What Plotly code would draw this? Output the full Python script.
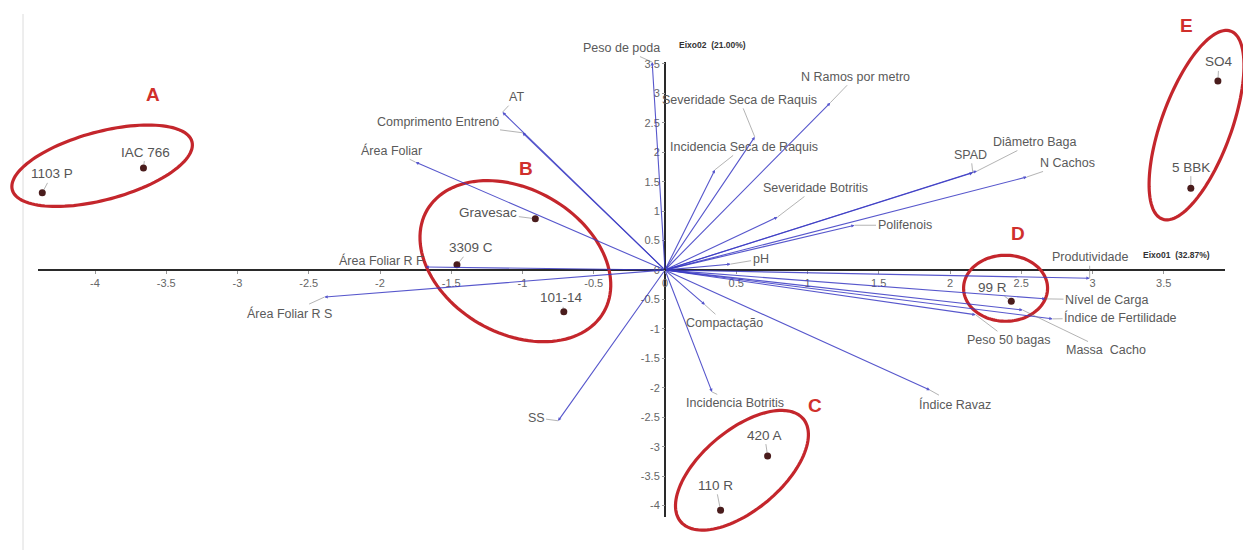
import numpy as np
import plotly.graph_objects as go

# ---- Observations (rootstocks): scores on Eixo01 / Eixo02 ----
obs_names = ["1103 P", "IAC 766", "Gravesac", "3309 C", "101-14",
             "420 A", "110 R", "99 R", "SO4", "5 BBK"]
obs_x = [-4.37, -3.66, -0.91, -1.46, -0.71, 0.72, 0.39, 2.43, 3.88, 3.69]
obs_y = [1.31, 1.73, 0.87, 0.09, -0.71, -3.16, -4.08, -0.53, 3.21, 1.39]

# ---- Variables: loadings drawn as vectors from the origin ----
var_names = ["Peso de poda", "AT", "Comprimento Entrenó", "Área Foliar",
             "Área Foliar R F", "Área Foliar R S", "SS", "Compactação",
             "Incidencia Botritis", "Índice Ravaz", "Peso 50 bagas",
             "Massa  Cacho", "Índice de Fertilidade", "Nível de Carga",
             "Produtividade", "pH", "Polifenois", "Severidade Botritis",
             "Incidencia Seca de Raquis", "Severidade Seca de Raquis",
             "N Ramos por metro", "SPAD", "Diâmetro Baga", "N Cachos"]
var_x = [-0.09, -1.14, -1.00, -1.75, -1.68, -2.39, -0.75, 0.28, 0.33, 1.86,
         2.18, 2.51, 2.72, 2.67, 2.98, 0.46, 1.33, 0.79, 0.35, 0.63,
         1.16, 2.16, 2.19, 2.54]
var_y = [3.53, 2.68, 2.33, 1.83, 0.05, -0.46, -2.56, -0.59, -2.07, -2.04,
         -0.76, -0.68, -0.83, -0.49, -0.14, 0.10, 0.76, 0.90, 1.70, 2.26,
         2.84, 1.65, 1.68, 1.58]

# ---- Axis ticks ----
x_ticks = [-4, -3.5, -3, -2.5, -2, -1.5, -1, -0.5, 0, 0.5, 1, 1.5, 2, 2.5, 3, 3.5]
x_tick_text = ["-4", "-3.5", "-3", "-2.5", "-2", "-1.5", "-1", "-0.5", "0",
               "0.5", "1", "1.5", "2", "2.5", "3", "3.5"]
y_ticks = [-4, -3.5, -3, -2.5, -2, -1.5, -1, -0.5, 0, 0.5, 1, 1.5, 2, 2.5, 3, 3.5]
y_tick_text = ["-4", "-3.5", "-3", "-2.5", "-2", "-1.5", "-1", "-0.5", "0",
               "0.5", "1", "1.5", "2", "2.5", "3", "3.5"]
x_axis_title = "Eixo01  (32.87%)"
y_axis_title = "Eixo02  (21.00%)"

# ---- Groups highlighted with ellipses ----
group_names = ["A", "B", "C", "D", "E"]
group_cx = [-3.95, -1.05, 0.54, 2.39, 3.73]
group_cy = [1.77, 0.15, -3.40, -0.31, 2.46]

# ---------------- layout geometry ----------------
W, H = 1243, 550
X0_PX, Y0_PX = 665, 270          # origin position in the page
SX, SY = 142.5, 58.9             # pixels per unit
x_range = [(0 - X0_PX) / SX, (W - X0_PX) / SX]
y_range = [(Y0_PX - H) / SY, Y0_PX / SY]

FAMILY = "Liberation Sans, Arial, sans-serif"
LABEL_FONT = dict(family=FAMILY, size=12.5, color="#5a5a5a")
VEC_COLOR = "rgba(58,58,196,0.85)"
LEADER = "rgba(110,110,110,0.65)"
RED = "#c4262c"

fig = go.Figure()

# observation points
fig.add_trace(go.Scatter(
    x=obs_x, y=obs_y, mode="markers",
    marker=dict(size=7, color="#4a1c1c"),
    hoverinfo="text", text=obs_names, showlegend=False))

annotations = []

# variable vectors
for vx, vy in zip(var_x, var_y):
    annotations.append(dict(
        x=vx, y=vy, ax=0, ay=0, xref="x", yref="y", axref="x", ayref="y",
        text="", showarrow=True, arrowhead=2, arrowsize=0.6, arrowwidth=1.1,
        arrowcolor=VEC_COLOR, standoff=0))

# variable labels with leader lines (pixel offsets of the text)
var_label_offsets = [(-31, -14), (14, -15), (-85, -11), (-24, -12), (-44, -7),
                     (-35, 16), (-22, -3), (20, 18), (23, 11), (25, 14),
                     (33, 25), (83, 40), (68, -1), (61, 1), (0, -21),
                     (30, -5), (50, 0), (38, -29), (29, -23), (-15, -37),
                     (25, -26), (-2, -18), (57, -29), (41, -14)]
for name, vx, vy, (ox, oy) in zip(var_names, var_x, var_y, var_label_offsets):
    annotations.append(dict(
        x=vx, y=vy, xref="x", yref="y", ax=ox, ay=oy,
        text=name, font=LABEL_FONT, showarrow=True, arrowhead=0,
        arrowwidth=0.8, arrowcolor=LEADER, standoff=0))

# observation labels
obs_label_offsets = [(10, -19), (2, -16), (-47, -6), (14, -17), (-2, -14),
                     (-3, -21), (-5, -25), (-19, -14), (1, -19), (0, -21)]
for name, ox_, oy_, (ox, oy) in zip(obs_names, obs_x, obs_y, obs_label_offsets):
    annotations.append(dict(
        x=ox_, y=oy_, xref="x", yref="y", ax=ox, ay=oy,
        text=name, font=dict(family=FAMILY, size=13.5, color="#555555"),
        showarrow=True, arrowhead=0, arrowwidth=0.8, arrowcolor=LEADER, standoff=3))

# axis titles
annotations.append(dict(x=(712 - X0_PX) / SX, y=(Y0_PX - 45) / SY, xref="x", yref="y",
                        text="<b>" + y_axis_title + "</b>", showarrow=False,
                        font=dict(family=FAMILY, size=8.5, color="#333333")))
annotations.append(dict(x=(1176 - X0_PX) / SX, y=(Y0_PX - 255) / SY, xref="x", yref="y",
                        text="<b>" + x_axis_title + "</b>", showarrow=False,
                        font=dict(family=FAMILY, size=8.5, color="#333333")))

# group ellipses (semi-axes in pixels, tilt in screen degrees) and letters
ell_style = [(93, 34, -15), (102, 72, 30), (80, 40, -40), (42, 33, 0), (100, 35, -70)]
letter_offsets = [(51, -71), (11, -93), (73, -65), (12, -55), (-10, -100)]
shapes = []
t = np.linspace(0, 2 * np.pi, 121)
for g, cx, cy, (a, b, ang), (lx, ly) in zip(group_names, group_cx, group_cy,
                                              ell_style, letter_offsets):
    th = np.deg2rad(ang)
    dx = a * np.cos(t) * np.cos(th) - b * np.sin(t) * np.sin(th)
    dy = a * np.cos(t) * np.sin(th) + b * np.sin(t) * np.cos(th)
    px = cx + dx / SX
    py = cy - dy / SY
    path = "M " + " L ".join(f"{u:.4f},{v:.4f}" for u, v in zip(px, py)) + " Z"
    shapes.append(dict(type="path", path=path, xref="x", yref="y",
                       line=dict(color=RED, width=3.2), layer="above"))
    annotations.append(dict(x=cx + lx / SX, y=cy - ly / SY, xref="x", yref="y",
                            text="<b>" + g + "</b>", showarrow=False,
                            font=dict(family=FAMILY, size=19, color="#d0302c")))

# axis lines through the origin
shapes.append(dict(type="line", xref="x", yref="y", x0=(38 - X0_PX) / SX, x1=(1225 - X0_PX) / SX,
                   y0=0, y1=0, line=dict(color="#2a2a2a", width=2.2), layer="below"))
shapes.append(dict(type="line", xref="x", yref="y", x0=0, x1=0,
                   y0=(Y0_PX - 517) / SY, y1=(Y0_PX - 62) / SY,
                   line=dict(color="#2a2a2a", width=2), layer="below"))
# thin frame line on the left edge
shapes.append(dict(type="line", xref="paper", yref="paper", x0=23 / W, x1=23 / W,
                   y0=0, y1=1 - 14 / H, line=dict(color="#dcdcdc", width=1), layer="below"))

tick_font = dict(family=FAMILY, size=11, color="#666666")
fig.update_layout(
    width=W, height=H,
    margin=dict(l=0, r=0, t=0, b=0),
    paper_bgcolor="white", plot_bgcolor="white",
    showlegend=False,
    xaxis=dict(range=x_range, anchor="free",
               position=(0 - y_range[0]) / (y_range[1] - y_range[0]),
               tickvals=x_ticks, ticktext=x_tick_text, ticks="outside", ticklen=3,
               tickcolor="#999999", tickfont=tick_font, showgrid=False, zeroline=False,
               showline=False, automargin=False, fixedrange=True),
    yaxis=dict(range=y_range, anchor="free",
               position=(0 - x_range[0]) / (x_range[1] - x_range[0]),
               tickvals=y_ticks, ticktext=y_tick_text, ticks="outside", ticklen=3,
               tickcolor="#999999", tickfont=tick_font, showgrid=False, zeroline=False,
               showline=False, automargin=False, fixedrange=True),
    annotations=annotations,
    shapes=shapes,
)

fig.write_html("out.html")
